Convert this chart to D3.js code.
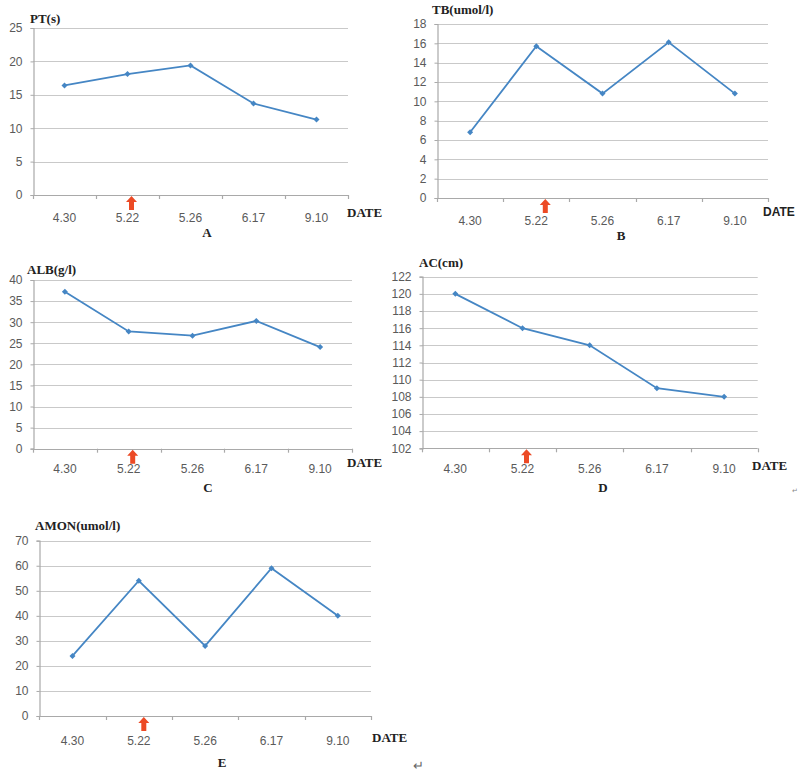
<!DOCTYPE html>
<html>
<head>
<meta charset="utf-8">
<script src="https://cdn.jsdelivr.net/npm/d3@7/dist/d3.min.js"></script>
<style>
  html, body { margin: 0; padding: 0; background: #ffffff; }
  svg { display: block; }
</style>
</head>
<body>
<svg id="chart" width="798" height="775"></svg>
<script>
// ---- data ----
const categories = ["4.30", "5.22", "5.26", "6.17", "9.10"];
const ptValues   = [16.4, 18.1, 19.4, 13.7, 11.3];
const tbValues   = [6.8, 15.7, 10.8, 16.1, 10.8];
const albValues  = [37.2, 27.8, 26.8, 30.3, 24.1];
const acValues   = [120, 116, 114, 109, 108];
const amonValues = [24, 54, 28, 59, 40];
const ptTicks   = [0, 5, 10, 15, 20, 25];
const tbTicks   = [0, 2, 4, 6, 8, 10, 12, 14, 16, 18];
const albTicks  = [0, 5, 10, 15, 20, 25, 30, 35, 40];
const acTicks   = [102, 104, 106, 108, 110, 112, 114, 116, 118, 120, 122];
const amonTicks = [0, 10, 20, 30, 40, 50, 60, 70];
const arrowCategory = "5.22";
const xAxisTitle = "DATE";

// ---- layout ----
const panels = [
  { title: "PT(s)", letter: "A", values: ptValues, ticks: ptTicks,
    x0: 33, x1: 348, yTop: 28, yBot: 195, titleX: 30, titleY: 23,
    dateX: 347, dateY: 217, letterX: 207, letterY: 237, catY: 222, arrowDx: 4, dateSans: false },
  { title: "TB(umol/l)", letter: "B", values: tbValues, ticks: tbTicks,
    x0: 437, x1: 768, yTop: 24, yBot: 198, titleX: 432, titleY: 14,
    dateX: 763, dateY: 216, letterX: 621, letterY: 240, catY: 225, arrowDx: 9, dateSans: true },
  { title: "ALB(g/l)", letter: "C", values: albValues, ticks: albTicks,
    x0: 33, x1: 352, yTop: 280, yBot: 448.7, titleX: 27, titleY: 274,
    dateX: 347, dateY: 467, letterX: 208, letterY: 492, catY: 473, arrowDx: 4, dateSans: false },
  { title: "AC(cm)", letter: "D", values: acValues, ticks: acTicks,
    x0: 421.7, x1: 757.7, yTop: 276.7, yBot: 448.3, titleX: 419, titleY: 267,
    dateX: 752, dateY: 470, letterX: 603, letterY: 492, catY: 473, arrowDx: 4, dateSans: false },
  { title: "AMON(umol/l)", letter: "E", values: amonValues, ticks: amonTicks,
    x0: 39.3, x1: 371, yTop: 540.7, yBot: 716, titleX: 35, titleY: 530,
    dateX: 372, dateY: 742, letterX: 222, letterY: 767, catY: 745, arrowDx: 5, dateSans: false }
];

const lineColor = "#4586c4";
const gridColor = "#c9c9c9";
const axisColor = "#a9a9a9";
const labelColor = "#5a5a5a";
const arrowColor = "#ec4a25";
const serif = "'Liberation Serif', 'Times New Roman', serif";
const sans = "'Liberation Sans', Arial, sans-serif";

const svg = d3.select("#chart");

panels.forEach(p => {
  const g = svg.append("g");
  const x = d3.scaleBand().domain(categories).range([p.x0, p.x1]).padding(0);
  const y = d3.scaleLinear().domain([p.ticks[0], p.ticks[p.ticks.length - 1]]).range([p.yBot, p.yTop]);

  // gridlines
  g.append("g").selectAll("line").data(p.ticks.slice(1)).join("line")
    .attr("x1", p.x0).attr("x2", p.x1)
    .attr("y1", d => Math.round(y(d)) + 0.5).attr("y2", d => Math.round(y(d)) + 0.5)
    .attr("stroke", gridColor).attr("stroke-width", 1.2);

  // y axis
  const yAxis = d3.axisLeft(y).tickValues(p.ticks).tickSize(3).tickPadding(8).tickFormat(d3.format("d"));
  const ya = g.append("g").attr("transform", `translate(${Math.round(p.x0) + 0.5},0)`).call(yAxis);
  ya.select(".domain").attr("stroke", axisColor).attr("stroke-width", 1.2);
  ya.selectAll(".tick line").attr("stroke", axisColor);
  ya.selectAll(".tick text").attr("fill", labelColor).style("font-family", sans).style("font-size", "12px");

  // x axis line
  g.append("line")
    .attr("x1", p.x0).attr("x2", p.x1)
    .attr("y1", Math.round(y(p.ticks[0])) + 0.5).attr("y2", Math.round(y(p.ticks[0])) + 0.5)
    .attr("stroke", axisColor).attr("stroke-width", 1.2);
  // x tick marks at band boundaries
  const bounds = categories.map(c => x(c)).concat([p.x1]);
  g.append("g").selectAll("line").data(bounds).join("line")
    .attr("x1", d => Math.round(d) + 0.5).attr("x2", d => Math.round(d) + 0.5)
    .attr("y1", y(p.ticks[0])).attr("y2", y(p.ticks[0]) + 4)
    .attr("stroke", axisColor).attr("stroke-width", 1.2);
  // category labels
  g.append("g").selectAll("text").data(categories).join("text")
    .attr("x", d => x(d) + x.bandwidth() / 2).attr("y", p.catY)
    .attr("text-anchor", "middle").attr("fill", labelColor)
    .style("font-family", sans).style("font-size", "12px")
    .text(d => d);

  // line + markers
  const pts = categories.map((c, i) => [x(c) + x.bandwidth() / 2, y(p.values[i])]);
  g.append("path").datum(pts)
    .attr("d", d3.line())
    .attr("fill", "none").attr("stroke", lineColor).attr("stroke-width", 1.8);
  g.append("g").selectAll("path").data(pts).join("path")
    .attr("transform", d => `translate(${d[0]},${d[1]}) rotate(45)`)
    .attr("d", d3.symbol(d3.symbolSquare, 18))
    .attr("fill", lineColor);

  // arrow marking 5.22
  const ax = x(arrowCategory) + x.bandwidth() / 2 + p.arrowDx;
  const ay = y(p.ticks[0]) + 1;
  g.append("path")
    .attr("d", `M${ax},${ay} L${ax + 5.5},${ay + 6} L${ax + 2.5},${ay + 6} L${ax + 2.5},${ay + 14} L${ax - 2.5},${ay + 14} L${ax - 2.5},${ay + 6} L${ax - 5.5},${ay + 6} Z`)
    .attr("fill", arrowColor);

  // titles
  g.append("text").attr("x", p.titleX).attr("y", p.titleY)
    .style("font-family", serif).style("font-weight", "bold").style("font-size", "13px")
    .attr("fill", "#222").text(p.title);
  g.append("text").attr("x", p.dateX).attr("y", p.dateY)
    .style("font-family", p.dateSans ? sans : serif).style("font-weight", "bold")
    .style("font-size", p.dateSans ? "12px" : "13px")
    .attr("fill", "#222").text(xAxisTitle);
  g.append("text").attr("x", p.letterX).attr("y", p.letterY)
    .attr("text-anchor", "middle")
    .style("font-family", serif).style("font-weight", "bold").style("font-size", "13px")
    .attr("fill", "#222").text(p.letter);
});

// paragraph marks
svg.append("text").attr("x", 418).attr("y", 770).attr("text-anchor", "middle")
  .style("font-family", sans).style("font-size", "13px").attr("fill", "#666").text("↵");
svg.append("text").attr("x", 795).attr("y", 493).attr("text-anchor", "middle")
  .style("font-family", sans).style("font-size", "7px").attr("fill", "#888").text("↵");
</script>
</body>
</html>
